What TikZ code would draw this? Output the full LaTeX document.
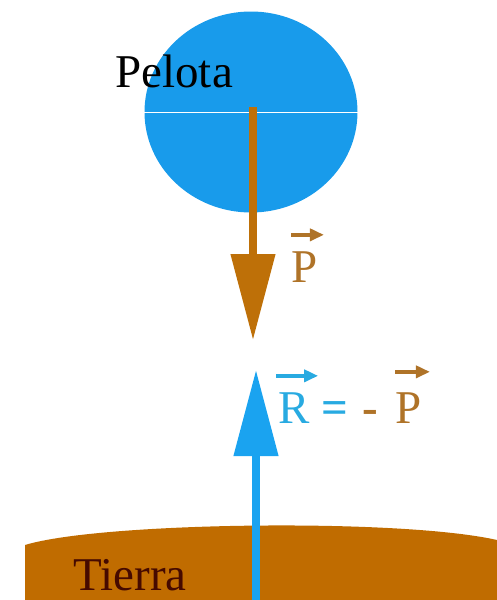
\documentclass[tikz,border=0pt]{standalone}
\usepackage{fontspec}
\setmainfont{Liberation Serif}
\usetikzlibrary{arrows.meta,shapes.geometric}
\definecolor{ballblue}{RGB}{24,155,235}
\definecolor{arrblue}{RGB}{26,163,240}
\definecolor{arrbrown}{RGB}{190,112,8}
\definecolor{ground}{RGB}{192,108,0}
\definecolor{tierratxt}{RGB}{70,10,0}
\definecolor{lblblue}{RGB}{40,170,225}
\definecolor{lblbrown}{RGB}{175,115,40}
\begin{document}
\begin{tikzpicture}[x=0.5pt,y=-0.5pt,
  lbl/.style={font=\fontsize{23.5}{26}\selectfont, inner sep=0pt, anchor=base west},
  force/.style={line width=3.8pt, -{Triangle[length=43pt,width=21.5pt]}},
  vecarr/.style={line width=1.8pt, -{Triangle[length=7pt,width=6pt]}}]
\useasboundingbox (0,0) rectangle (497,600);
% ground
\fill[ground] (25,600) -- (25,545) .. controls (100,522) and (400,518) .. (497,540) -- (497,600) -- cycle;
% ball
\node[ellipse, fill=ballblue, minimum width=106.5pt, minimum height=100.5pt, inner sep=0pt] (ball) at (251,112) {};
\draw[white, line width=0.5pt] (ball.west) -- (ball.east);
% coordinates
\coordinate (pstart) at (253,107);
\coordinate (ptip) at (253,340);
\coordinate (rstart) at (256,600);
\coordinate (rtip) at (256,370);
\draw[force, arrbrown] (pstart) -- (ptip);
\draw[force, arrblue] (rstart) -- (rtip);
% labels
\node[lbl, text=black] (pelota) at (115,87) {Pelota};
\node[lbl, text=tierratxt] (tierra) at (73,590) {Tierra};
\node[lbl, text=lblbrown] (p1) at (291,282) {P};
\node[lbl, text=lblblue] (r) at (278,423) {R};
\node[lbl, text=lblblue, font=\fontsize{23.5}{26}\selectfont\bfseries] (eq) at (321,423) {=};
\node[lbl, text=lblbrown, font=\fontsize{23.5}{26}\selectfont\bfseries] (minus) at (362,423) {-};
\node[lbl, text=lblbrown] (p2) at (395,423) {P};
% vector arrows
\draw[vecarr, lblbrown] ([xshift=0pt,yshift=8pt]p1.north west) -- ([xshift=3pt,yshift=8pt]p1.north east);
\draw[vecarr, lblblue] ([xshift=-1pt,yshift=8pt]r.north west) -- ([xshift=4pt,yshift=8pt]r.north east);
\draw[vecarr, lblbrown] ([xshift=0pt,yshift=10pt]p2.north west) -- ([xshift=4pt,yshift=10pt]p2.north east);
\end{tikzpicture}
\end{document}
